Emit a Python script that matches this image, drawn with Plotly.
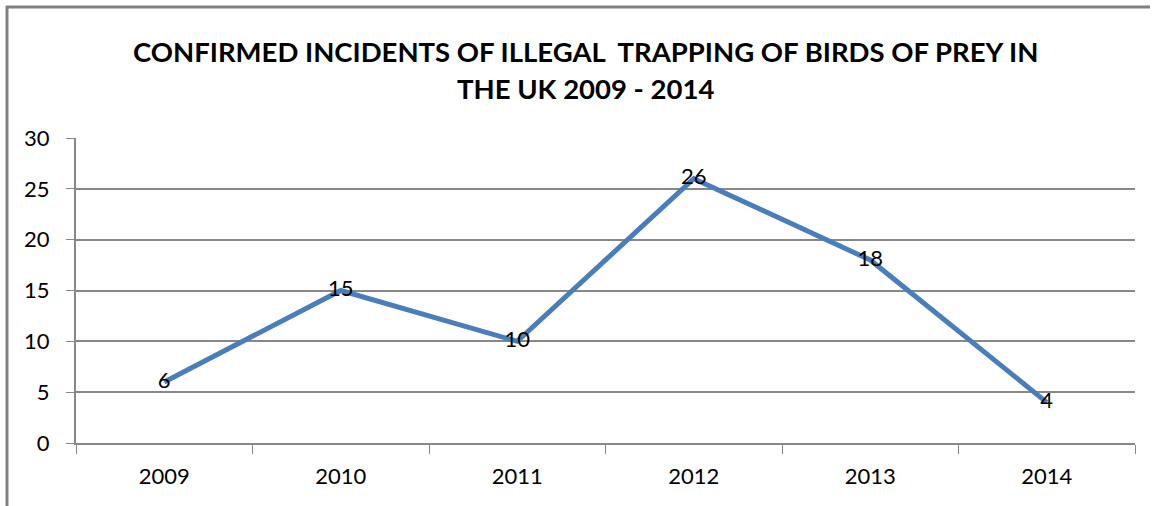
import plotly.graph_objects as go

years = ["2009", "2010", "2011", "2012", "2013", "2014"]
incidents = [6, 15, 10, 26, 18, 4]

title_lines = [
    "CONFIRMED INCIDENTS OF ILLEGAL  TRAPPING OF BIRDS OF PREY IN",
    "THE UK 2009 - 2014",
]

LINE_BLUE = "#4A7EBB"
GRID = "#888888"
FRAME = "#808080"
FONT = "Lato, Open Sans, sans-serif"

# plot area in pixels
L, R, T, B = 76, 1135, 138, 443
W, H = R - L, B - T


def px_x(x):
    return (x - L) / W


def px_y(y):
    return (B - y) / H


fig = go.Figure()
fig.add_trace(go.Scatter(
    x=years,
    y=incidents,
    mode="lines+text",
    line=dict(color=LINE_BLUE, width=5),
    text=[str(v) for v in incidents],
    textposition="middle center",
    textfont=dict(family=FONT, size=22, color="black"),
    cliponaxis=False,
    hoverinfo="skip",
))

annotations = [
    dict(text=line, xref="paper", yref="paper",
         x=px_x(585), y=px_y(cy), xanchor="center", yanchor="middle",
         showarrow=False,
         font=dict(family=FONT, size=27.5, color="black", weight="bold"))
    for line, cy in zip(title_lines, [52, 88])
]

fig.update_layout(
    width=1152,
    height=506,
    margin=dict(l=L, r=1152 - R, t=T, b=506 - B),
    paper_bgcolor="white",
    plot_bgcolor="white",
    showlegend=False,
    font=dict(family=FONT, size=22, color="black"),
    annotations=annotations,
    xaxis=dict(
        type="category",
        range=[-0.5, 5.5],
        tickson="boundaries",
        ticks="outside",
        ticklen=9,
        tickcolor=GRID,
        showline=True,
        linecolor=GRID,
        linewidth=2,
        showgrid=False,
        tickfont=dict(family=FONT, size=22, color="black"),
        ticklabelstandoff=13,
    ),
    yaxis=dict(
        range=[0, 30],
        dtick=5,
        ticks="outside",
        ticklen=8,
        tickcolor=GRID,
        showline=True,
        linecolor=GRID,
        linewidth=2,
        showgrid=True,
        gridcolor=GRID,
        gridwidth=1.5,
        zeroline=False,
        tickfont=dict(family=FONT, size=22, color="black"),
        ticklabelstandoff=12,
    ),
    shapes=[
        # outer chart frame: left and top edges
        dict(type="line", xref="paper", yref="paper",
             x0=px_x(7), x1=px_x(7), y0=px_y(6), y1=px_y(506),
             line=dict(color=FRAME, width=3)),
        dict(type="line", xref="paper", yref="paper",
             x0=px_x(6), x1=px_x(1150), y0=px_y(7), y1=px_y(7),
             line=dict(color=FRAME, width=3)),
    ],
)

fig.write_html("out.html", config={"displayModeBar": False})
